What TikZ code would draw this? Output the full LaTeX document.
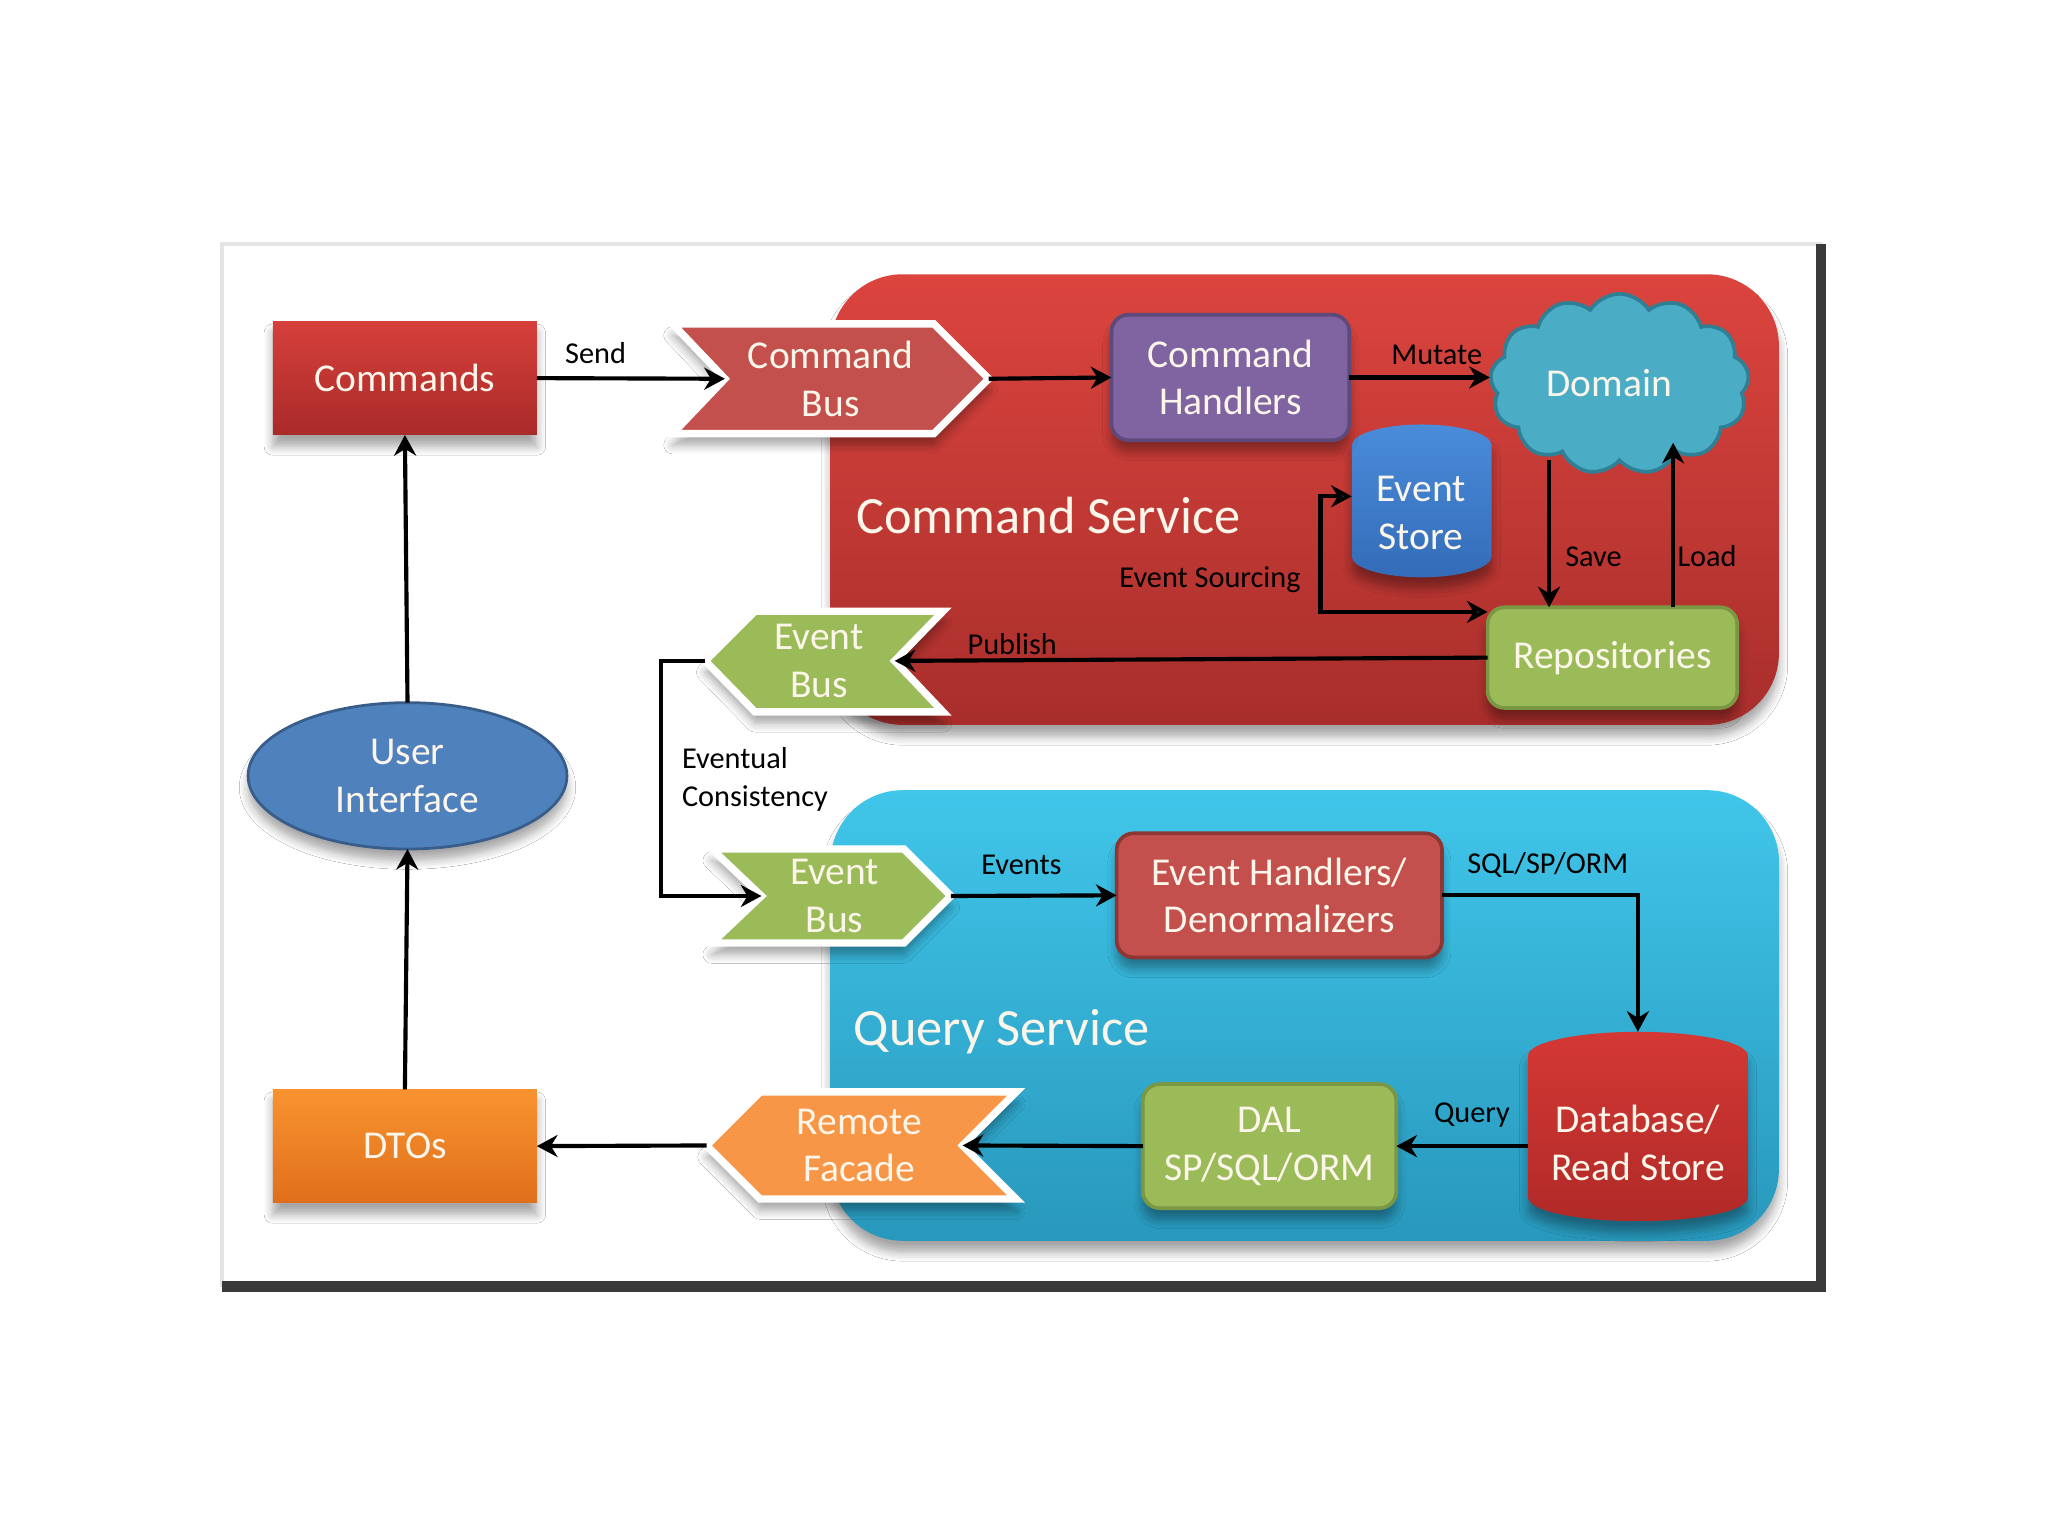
\documentclass[tikz,border=0pt]{standalone}
\usepackage{fontspec}
\setmainfont{Carlito}
\usetikzlibrary{shapes.geometric,shapes.symbols,arrows.meta,shadows.blur}
\definecolor{txtw}{HTML}{FBF5EA}
\definecolor{csTop}{HTML}{DC443E}
\definecolor{csBot}{HTML}{A82E2B}
\definecolor{qsTop}{HTML}{40C6EA}
\definecolor{qsBot}{HTML}{2898BC}
\definecolor{cmdTop}{HTML}{D6403B}
\definecolor{cmdBot}{HTML}{A92A29}
\definecolor{busRed}{HTML}{C4504D}
\definecolor{purp}{HTML}{8064A2}
\definecolor{purpD}{HTML}{5E4A7A}
\definecolor{cloudB}{HTML}{4BACC6}
\definecolor{cloudD}{HTML}{2F7F95}
\definecolor{esTop}{HTML}{4A8CDA}
\definecolor{esBot}{HTML}{336CB8}
\definecolor{grn}{HTML}{9BBB59}
\definecolor{grnD}{HTML}{7A9844}
\definecolor{ehRed}{HTML}{C4504D}
\definecolor{ehRedD}{HTML}{8E3634}
\definecolor{dbTop}{HTML}{D43834}
\definecolor{dbBot}{HTML}{B02A28}
\definecolor{orng}{HTML}{F79646}
\definecolor{dtoTop}{HTML}{F9932F}
\definecolor{dtoBot}{HTML}{DF6F1B}
\definecolor{uiBlue}{HTML}{4F81BD}
\definecolor{uiBlueD}{HTML}{385D8A}
\definecolor{frameD}{HTML}{3A3A3A}
\tikzset{
  x=0.01cm, y=-0.01cm,
  ntext/.style={text=txtw, font=\fontsize{8.6}{10.4}\selectfont, align=center, inner sep=0pt, outer sep=0pt},
  lbl/.style={text=black, font=\fontsize{6.6}{8.2}\selectfont, inner sep=1pt},
  title/.style={text=txtw, font=\fontsize{11.4}{13}\selectfont, inner sep=0pt},
  arr/.style={-{Stealth[length=4.5pt,width=4.8pt]}, line width=0.9pt, black},
  arrthin/.style={-{Stealth[length=4.5pt,width=4.8pt]}, line width=0.75pt, black},
  shad/.style={blur shadow={shadow xshift=0pt, shadow yshift=-2.5pt, shadow blur steps=6, shadow opacity=35}},
  chev/.style={line width=1.6pt, draw=white, shad},
  anch/.style={inner sep=0pt, outer sep=0pt, rectangle},
}
\begin{document}
\begin{tikzpicture}
\useasboundingbox (0,0) rectangle (1568,1176);
\fill[white] (0,0) rectangle (1568,1176);
% frame
\draw[black!10, line width=0.8pt] (170,187) rectangle (1394,984);
\fill[frameD] (1390,187) rectangle (1398,989);
\fill[frameD] (170,981) rectangle (1398,989);

% containers
\path[shad, top color=csTop, bottom color=csBot, rounded corners=0.55cm] (636,210) rectangle (1362,555);
\path[shad, top color=qsTop, bottom color=qsBot, rounded corners=0.55cm] (636,605) rectangle (1362,950);
\node[title, anchor=west] (cstitle) at (655,395) {Command Service};
\node[title, anchor=west] (qstitle) at (653,790) {Query Service};

% chevrons
\path[chev, fill=busRed] (515,248) -- (715,248) -- (757,290) -- (715,332) -- (515,332) -- (555,290) -- cycle;
\path[chev, fill=grn] (540,506) -- (578,468) -- (722,468) -- (685,506) -- (722,545) -- (578,545) -- cycle;
\path[chev, fill=grn] (545,650) -- (692,650) -- (728,686) -- (692,722) -- (545,722) -- (583,686) -- cycle;
\path[chev, fill=orng] (541,877) -- (582,836) -- (778,836) -- (737,877) -- (778,918) -- (582,918) -- cycle;
\node[ntext] (cbus) at (636,290) {Command\\Bus};
\node[ntext] (ebtop) at (627,506) {Event\\Bus};
\node[ntext] (ebbot) at (639,686) {Event\\Bus};
\node[ntext] (rf) at (658,877) {Remote\\Facade};
\coordinate (cbusNotch) at (555,290);
\coordinate (cbusTip) at (757,290);
\coordinate (ebTopTip) at (540,506);
\coordinate (ebTopNotch) at (685,506);
\coordinate (ebBotNotch) at (583,686);
\coordinate (ebBotTip) at (728,686);
\coordinate (rfTip) at (541,877);
\coordinate (rfNotch) at (737,877);

% cylinders (drawn as paths)
\path[shad, top color=esTop, bottom color=esBot] (1035,341) -- (1035,426)
  arc[start angle=180, end angle=0, x radius=53.5, y radius=16] -- (1142,341)
  arc[start angle=0, end angle=-180, x radius=53.5, y radius=16] -- cycle;
\path[shad, top color=dbTop, bottom color=dbBot] (1170,808) -- (1170,917)
  arc[start angle=180, end angle=0, x radius=84, y radius=18] -- (1338,808)
  arc[start angle=0, end angle=-180, x radius=84, y radius=18] -- cycle;
\node[anch, minimum width=1.07cm, minimum height=1.17cm] (estore) at (1088.5,383.5) {};
\node[ntext] (estoreT) at (1088,393) {Event\\Store};
\node[anch, minimum width=1.68cm, minimum height=1.45cm] (db) at (1254,862.5) {};
\node[ntext] (dbT) at (1254,875) {Database/\\Read Store};

% nodes
\node[ntext, shad, rectangle, top color=cmdTop, bottom color=cmdBot, minimum width=2.02cm, minimum height=0.87cm] (commands) at (310,289.5) {Commands};
\node[ntext, shad, rectangle, top color=dtoTop, bottom color=dtoBot, minimum width=2.02cm, minimum height=0.87cm] (dtos) at (310,877.5) {DTOs};
\node[ntext, shad, ellipse, fill=uiBlue, draw=uiBlueD, line width=0.6pt, minimum width=2.44cm, minimum height=1.12cm] (ui) at (312,594) {User\\Interface};
\node[ntext, shad, rectangle, rounded corners=0.13cm, fill=purp, draw=purpD, line width=0.8pt, minimum width=1.82cm, minimum height=0.96cm] (handlers) at (942,289) {Command\\Handlers};
\node[cloud, cloud puffs=13, cloud puff arc=115, aspect=1.45, fill=cloudB, draw=cloudD, line width=0.8pt, minimum width=1.98cm, minimum height=1.38cm] (domain) at (1240,294) {};
\node[ntext] (domainT) at (1232,293) {Domain};
\node[ntext, shad, rectangle, rounded corners=0.13cm, fill=grn, draw=grnD, line width=0.8pt, minimum width=1.91cm, minimum height=0.77cm] (repos) at (1234.5,503.5) {Repositories};
\node[ntext, shad, rectangle, rounded corners=0.13cm, fill=ehRed, draw=ehRedD, line width=0.8pt, minimum width=2.49cm, minimum height=0.95cm] (ehandlers) at (979.5,685.5) {Event Handlers/\\Denormalizers};
\node[ntext, shad, rectangle, rounded corners=0.13cm, fill=grn, draw=grnD, line width=0.8pt, minimum width=1.94cm, minimum height=0.95cm] (dal) at (972,877.5) {DAL\\SP/SQL/ORM};

% connectors
\draw[arr] (commands.east) -- (cbusNotch);
\node[lbl] (lsend) at (456,270) {Send};
\draw[arr] (cbusTip) -- (handlers.west);
\draw[arr] (handlers.east) -- (handlers.east -| domain.west);
\node[lbl] (lmutate) at (1100,272) {Mutate};
\coordinate (saveTop) at (1186,352);
\coordinate (loadTop) at (1281,339);
\draw[arr] (saveTop) -- (saveTop |- repos.north);
\draw[arr] (loadTop |- repos.north) -- (loadTop);
\node[lbl] (lsave) at (1220,426) {Save};
\node[lbl] (lload) at (1307,426) {Load};
\draw[{Stealth[length=4.5pt,width=4.8pt]}-{Stealth[length=4.5pt,width=4.8pt]}, line width=0.9pt] ([yshift=1pt]estore.west) -- ++(-24,0) |- ([yshift=-1pt]repos.north west);
\node[lbl, anchor=east] (lsourcing) at (1000,444) {Event Sourcing};
\draw[arr] (repos.west) -- (ebTopNotch);
\node[lbl] (lpublish) at (775,493) {Publish};
\draw[arrthin] (ebTopTip) -- ++(-34,0) |- (ebBotNotch);
\node[lbl, anchor=north west, align=left, font=\fontsize{6.6}{8.3}\selectfont] (leventual) at (518,568) {Eventual\\Consistency};
\draw[arr] (ebBotTip) -- (ehandlers.west);
\node[lbl] (levents) at (782,662) {Events};
\draw[arr] (ehandlers.east) -| (db.north);
\node[lbl] (lsql) at (1185,662) {SQL/SP/ORM};
\draw[arr] (dal.east -| db.west) -- (dal.east);
\node[lbl] (lquery) at (1127,854) {Query};
\draw[arr] (dal.west) -- (rfNotch);
\draw[arr] (rfTip) -- (dtos.east);
\draw[arr] (dtos.north) -- (ui.south);
\draw[arr] (ui.north) -- (commands.south);
\end{tikzpicture}
\end{document}
